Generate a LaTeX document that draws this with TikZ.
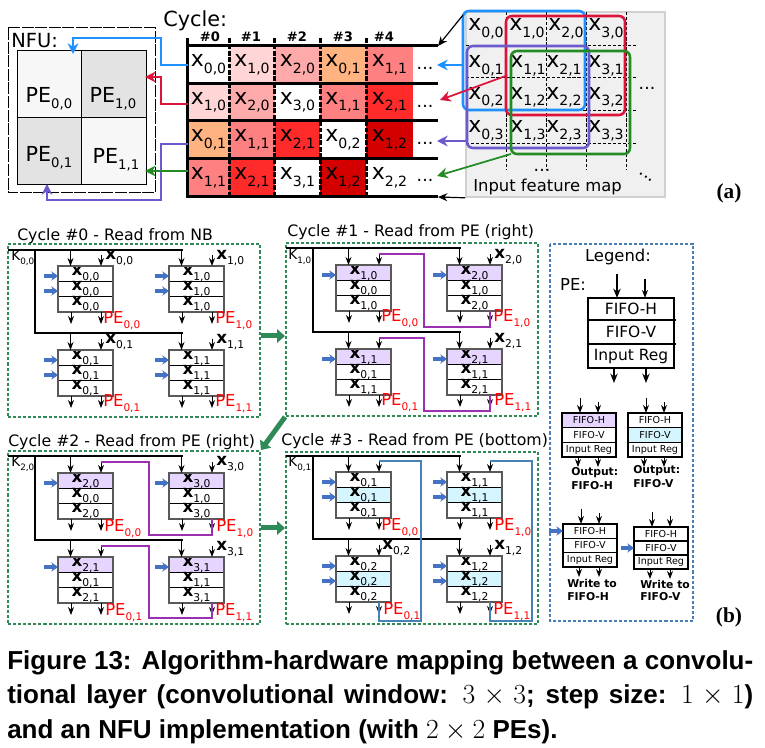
\documentclass[tikz,border=0pt]{standalone}
\usepackage{fontspec}
\setmainfont{DejaVu Sans}
\newfontfamily\capfont{Liberation Sans}
\newfontfamily\tagfont{Liberation Serif}
\usetikzlibrary{arrows.meta,calc}

\definecolor{winblue}{HTML}{1E90FF}
\definecolor{winred}{HTML}{DC143C}
\definecolor{winpurple}{HTML}{6A5ACD}
\definecolor{wingreen}{HTML}{228B22}
\definecolor{heata}{HTML}{FFD5D5}
\definecolor{heatb}{HTML}{FFAAAA}
\definecolor{heatc}{HTML}{FFB380}
\definecolor{heatd}{HTML}{FF8080}
\definecolor{heate}{HTML}{FF2A2A}
\definecolor{heatf}{HTML}{D40000}
\definecolor{fifoh}{HTML}{E5D5FF}
\definecolor{fifov}{HTML}{D5F6FF}
\definecolor{panelgreen}{HTML}{2E8B57}
\definecolor{writeblue}{HTML}{4472C4}
\definecolor{wirepurple}{HTML}{9B30B0}
\definecolor{wireblue}{HTML}{4682B4}
\definecolor{legendblue}{HTML}{4A7FB5}

\newcommand{\lowtxt}[1]{\raisebox{-.3em}{\scalebox{.64}{#1}}}
\newcommand{\xl}[1]{x\lowtxt{#1}}
\newcommand{\bxl}[1]{\textbf{x}\lowtxt{#1}}
\newcommand{\pel}[1]{PE\lowtxt{#1}}

\tikzset{
  tcell/.style={rectangle,inner sep=0pt,outer sep=0pt,font=\fontsize{16.5}{18}\selectfont},
  maplbl/.style={inner sep=0pt,font=\fontsize{16.5}{18}\selectfont},
  dotlbl/.style={inner sep=0pt,font=\fontsize{13}{15}\selectfont},
  nfucell/.style={rectangle,draw=black,line width=.75pt,inner sep=0pt,outer sep=0pt,minimum width=65*.75pt,minimum height=67*.75pt},
  nfulbl/.style={inner sep=0pt,font=\fontsize{15.5}{18}\selectfont},
  window/.style={rectangle,rounded corners=4.5pt,line width=1.9pt,inner sep=0pt,outer sep=0pt},
  conn/.style={line width=1.3pt,-{Stealth[length=8pt,width=8pt]}},
  thinconn/.style={line width=.9pt,-{Stealth[length=7pt,width=6pt]}},
  tableline/.style={line width=2.25pt},
  tabledash/.style={line width=2.25pt,dash pattern=on 3.6pt off 1.2pt},
  perow/.style={rectangle,draw=black,line width=.7pt,inner sep=0pt,outer sep=0pt,minimum width=55*.75pt,minimum height=15.33*.75pt,font=\fontsize{12.6}{14}\selectfont},
  peframe/.style={draw=black!65,line width=1.2pt},
  parrow/.style={line width=.7pt,-{Stealth[length=6pt,width=4.5pt]}},
  bigarrow/.style={line width=1.5pt,-{Stealth[length=7pt,width=5.5pt]}},
  busline/.style={line width=1.5pt},
  writearrow/.style={writeblue,line width=2.3pt,-{Stealth[length=5pt,width=7pt]}},
  panelbox/.style={rectangle,draw=panelgreen,line width=1.4pt,dash pattern=on 2.3pt off 1.5pt,inner sep=0pt},
  steparrow/.style={panelgreen,line width=3.75pt,-{Triangle[length=6pt,width=10pt]}},
  title/.style={anchor=west,inner sep=0pt,font=\fontsize{11.8}{14}\selectfont},
  toplbl/.style={anchor=west,inner sep=0pt,font=\fontsize{12.6}{14}\selectfont},
  klbl/.style={anchor=west,inner sep=0pt,font=\fontsize{10.3}{12}\selectfont},
  redlbl/.style={anchor=west,inner sep=0pt,text=red,font=\fontsize{12.3}{14}\selectfont},
  fifowire/.style={wirepurple,line width=1.3pt},
  botwire/.style={wireblue,line width=1.6pt},
  legrow/.style={rectangle,draw=black,line width=.8pt,inner sep=0pt,outer sep=0pt,minimum width=54*.75pt,font=\fontsize{7.2}{9}\selectfont},
  bigrow/.style={rectangle,inner sep=0pt,outer sep=0pt,minimum width=86*.75pt,font=\fontsize{11.6}{14}\selectfont},
  legnote/.style={anchor=west,inner sep=0pt,font=\bfseries\fontsize{8.1}{10}\selectfont},
  tagnode/.style={inner sep=0pt,font=\tagfont\bfseries\fontsize{16}{18}\selectfont}
}

% one PE with its three registers
\newcommand{\pebox}[8]{%
  \node[perow,fill=#4] (#1-h) at (#2+27.5,#3+7.67) {#6};
  \node[perow,fill=#5] (#1-v) at (#2+27.5,#3+23) {#7};
  \node[perow] (#1-r) at (#2+27.5,#3+38.33) {#8};
  \draw[peframe] (#1-h.north west) rectangle (#1-r.south east);
  \coordinate (#1-ia) at (#2+12.5,#3);
  \coordinate (#1-ib) at (#2+43,#3);
  \coordinate (#1-ic) at (#2+43,#3-11);
  \coordinate (#1-oa) at (#2+13,#3+46);
  \coordinate (#1-ob) at (#2+43,#3+46);
  \coordinate (#1-wa) at (#2,#3+10);
  \coordinate (#1-wb) at (#2,#3+25);
  \draw[parrow] (#1-ic) -- (#1-ib);
  \draw[parrow] (#1-oa) -- ++(0,12);
  \draw[parrow] (#1-ob) -- ++(0,12);
}
% small PE of the legend
\newcommand{\legbox}[6]{%
  \node[legrow,minimum height=#4*.75pt,fill=#5] (#1-h) at (#2+27,#3+#4/2) {FIFO-H};
  \node[legrow,minimum height=#4*.75pt,fill=#6] (#1-v) at (#2+27,#3+#4*1.5) {FIFO-V};
  \node[legrow,minimum height=#4*.75pt] (#1-r) at (#2+27,#3+#4*2.5) {Input Reg};
  \draw[parrow] (#2+18,#3-15) -- (#2+18,#3);
  \draw[parrow] (#2+36,#3-11) -- (#2+36,#3);
  \draw[parrow] (#2+16,#3+#4*3) -- ++(0,10);
  \draw[parrow] (#2+36,#3+#4*3) -- ++(0,10);
}

\begin{document}
\begin{tikzpicture}[x=0.75pt,y=0.75pt,yscale=-1,xscale=1]
\useasboundingbox (0,0) rectangle (765,748);

% NFU
\draw [line width=.75pt,dash pattern=on 9pt off 1.2pt] (8,28) rectangle (155,193);
\node[anchor=west,inner sep=0pt,font=\fontsize{14.6}{16}\selectfont] (nfu) at (11,41) {NFU:};
\node[nfucell,fill=black!3] (pe00) at (49.5,84.5) {};
\node[nfucell,fill=black!11] (pe10) at (114,84.5) {};
\node[nfucell,fill=black!11] (pe01) at (49.5,151.5) {};
\node[nfucell,fill=black!3] (pe11) at (114,151.5) {};
\node[nfulbl] (lpe00) at (49,99) {\pel{0,0}};
\node[nfulbl] (lpe10) at (113,99) {\pel{1,0}};
\node[nfulbl] (lpe01) at (49,158) {\pel{0,1}};
\node[nfulbl] (lpe11) at (116,160) {\pel{1,1}};

% cycle table
\node[anchor=west,inner sep=0pt,font=\fontsize{15.6}{18}\selectfont] (cycle) at (163,21) {Cycle:};
\foreach \hname/\hx in {0/210,1/251,2/297,3/343,4/384}
  \node[inner sep=0pt,font=\bfseries\fontsize{9.8}{12}\selectfont] (head\hname) at (\hx,37) {\#\hname};
\foreach \tname/\tx/\ty/\tw/\th/\tdrop/\tfill/\ttext in {
  t00/208.5/65/41/38/2.2/white/0{,}0, t01/252/65/46/38/2.2/heata/1{,}0, t02/297.5/65/45/38/2.2/heatb/2{,}0, t03/343/65/46/38/2.2/heatc/0{,}1, t04/389.5/65/47/38/2.2/heatd/1{,}1,
  t10/208.5/102.5/41/37/2.6/heata/1{,}0, t11/252/102.5/46/37/2.6/heatb/2{,}0, t12/297.5/102.5/45/37/2.6/white/3{,}0, t13/343/102.5/46/37/2.6/heatd/1{,}1, t14/389.5/102.5/47/37/2.6/heate/2{,}1,
  t20/208.5/140/41/38/.8/heatc/0{,}1, t21/252/140/46/38/.8/heatd/1{,}1, t22/297.5/140/45/38/.8/heate/2{,}1, t23/343/140/46/38/.8/white/0{,}2, t24/389.5/140/47/38/.8/heatf/1{,}2,
  t30/208.5/178/41/38/.8/heatd/1{,}1, t31/252/178/46/38/.8/heate/2{,}1, t32/297.5/178/45/38/.8/white/3{,}1, t33/343/178/46/38/.8/heatf/1{,}2, t34/389.5/178/47/38/.8/white/2{,}2}
  \node[tcell,fill=\tfill,minimum width=\tw*.75pt,minimum height=\th*.75pt] (\tname) at (\tx,\ty) {\raisebox{-\tdrop pt}{\xl{\ttext}}};
\foreach \dname/\dy in {0/68,1/106,2/143,3/180}
  \node[dotlbl] (dots\dname) at (425,\dy) {...};
\foreach \ly in {46,84,121,159,197}
  \draw[tableline] (187,\ly) -- (438,\ly);
\draw[tableline] (187.5,38) -- (187.5,198);
\foreach \lx in {229,274.7,320,366}
  \draw[tabledash] (\lx,38) -- (\lx,197);

% input feature map
\node[rectangle,draw=black!18,fill=black!6,line width=1.2pt,inner sep=0pt,minimum width=199*.75pt,minimum height=185*.75pt] (fmap) at (565.5,104.5) {};
\foreach \ly in {46,78,111,144}
  \draw[line width=.75pt,dash pattern=on 2.4pt off 1.4pt] (466,\ly) -- (638,\ly);
\foreach \lx in {506,546,586,626}
  \draw[line width=.75pt,dash pattern=on 2.4pt off 1.4pt] (\lx,12) -- (\lx,170);
\foreach \mname/\mx/\my/\mtext in {
  m00/486/29/0{,}0, m10/527/29/1{,}0, m20/566/29/2{,}0, m30/606/29/3{,}0,
  m01/486/66/0{,}1, m11/528/66/1{,}1, m21/564/66/2{,}1, m31/606/66/3{,}1,
  m02/486/97.5/0{,}2, m12/528/97.5/1{,}2, m22/564/97.5/2{,}2, m32/606/97.5/3{,}2,
  m03/486/131/0{,}3, m13/528/131/1{,}3, m23/564/131/2{,}3, m33/606/131/3{,}3}
  \node[maplbl] (\mname) at (\mx,\my) {\xl{\mtext}};
\node[dotlbl] (mapdots) at (647,88) {...};
\node[dotlbl] (mapdotsb) at (542,170) {...};
\node[dotlbl,rotate=-35] (mapdotsc) at (646,177) {...};
\node[anchor=west,inner sep=0pt,font=\fontsize{12.3}{14}\selectfont] (fmaptxt) at (473,187) {Input feature map};
\node[window,draw=winblue,minimum width=122*.75pt,minimum height=99*.75pt] (winb) at (524,60.5) {};
\node[window,draw=winred,minimum width=119*.75pt,minimum height=99*.75pt] (winr) at (565.5,65.5) {};
\node[window,draw=winpurple,minimum width=122*.75pt,minimum height=102*.75pt] (winp) at (528,97) {};
\node[window,draw=wingreen,minimum width=119*.75pt,minimum height=103*.75pt] (wing) at (570.5,102.5) {};

% from the windows to the table
\coordinate (inb) at (437,65);
\coordinate (inr) at (440,100);
\coordinate (inp) at (437,141);
\coordinate (ing) at (437,176);
\draw[conn,winblue] (winb.west |- inb) -- (inb);
\draw[conn,winred] ($(winr.west)+(1,10)$) -- (inr);
\draw[conn,winpurple] (winp.west |- inp) -- (inp);
\draw[conn,wingreen] (wing.south west) -- (ing);
\draw[thinconn] (winb.north west) ++(0,4) -- (438,46);
\draw[thinconn] (fmap.south west) -- (438,197);

% from the table to the NFU
\coordinate (nfub) at (73,54);
\coordinate (nfur) at (145,77);
\coordinate (nfup) at (47,184);
\coordinate (nfug) at (145,171);
\draw[conn,winblue] (t00.west) -| (161,38) -| (nfub);
\draw[conn,winred] ($(t10.west)+(0,1.5)$) -| (161,77) -- (nfur);
\draw[conn,winpurple] ($(t20.west)+(0,4)$) -| (161,200) -| (nfup);
\draw[conn,wingreen] ($(t30.west)+(0,-7)$) -- (nfug);
\node[tagnode] (taga) at (729,193) {(a)};

% cycle panels
\node[panelbox,minimum width=252*.75pt,minimum height=173*.75pt] (panela) at (134,330.5) {};
\node[panelbox,minimum width=252*.75pt,minimum height=173*.75pt] (panelb) at (412,329.5) {};
\node[panelbox,minimum width=252*.75pt,minimum height=173*.75pt] (panelc) at (134,537.5) {};
\node[panelbox,minimum width=252*.75pt,minimum height=172*.75pt] (paneld) at (412,538) {};
\node[title] (tita) at (17,236) {Cycle \#0 - Read from NB};
\node[title] (titb) at (287,232) {Cycle \#1 - Read from PE (right)};
\node[title] (titc) at (8,442) {Cycle \#2 - Read from PE (right)};
\node[title] (titd) at (281,441) {Cycle \#3 - Read from PE (bottom)};
\draw[steparrow] ($(panela.east)+(0,5.5)$) -- ($(panelb.west)+(0,6.5)$);
\draw[steparrow] (panelb.south west) -- (panelc.north east);
\draw[steparrow] ($(panelc.east)+(0,-9.5)$) -- ($(paneld.west)+(0,-10)$);

\foreach \bname/\bx/\by/\fa/\fb/\la/\lb/\lc in {
  c0a/58/266/white/white/0{,}0/0{,}0/0{,}0, c0b/169/266/white/white/1{,}0/1{,}0/1{,}0,
  c0c/58/350/white/white/0{,}1/0{,}1/0{,}1, c0d/169/350/white/white/1{,}1/1{,}1/1{,}1,
  c1a/336/265/fifoh/white/1{,}0/0{,}0/1{,}0, c1b/447/265/fifoh/white/2{,}0/1{,}0/2{,}0,
  c1c/336/349/fifoh/white/1{,}1/0{,}1/1{,}1, c1d/447/349/fifoh/white/2{,}1/1{,}1/2{,}1,
  c2a/58/473/fifoh/white/2{,}0/0{,}0/2{,}0, c2b/169/473/fifoh/white/3{,}0/1{,}0/3{,}0,
  c2c/58/557/fifoh/white/2{,}1/0{,}1/2{,}1, c2d/169/557/fifoh/white/3{,}1/1{,}1/3{,}1,
  c3a/336/472/white/fifov/0{,}1/0{,}1/0{,}1, c3b/447/472/white/fifov/1{,}1/1{,}1/1{,}1,
  c3c/336/556/white/fifov/0{,}2/0{,}2/0{,}2, c3d/447/556/white/fifov/1{,}2/1{,}2/1{,}2}
  \pebox{\bname}{\bx}{\by}{\fa}{\fb}{\bxl{\la}}{\bxl{\lb}}{\bxl{\lc}};

% K lines
\foreach \pn/\px/\py/\busy in {c0/58/266/250,c1/336/265/248,c2/58/473/456,c3/336/472/456}{
  \coordinate (\pn bust) at (\px,\busy);
  \coordinate (\pn busl) at (\px,\py+67);
  \draw[busline] (\px-50,\busy) -- (\px+125,\busy);
  \draw[busline] (\px-23,\busy) |- (\px+125,\py+67);
  \draw[parrow] (\pn a-ia |- \pn bust) -- (\pn a-ia);
  \draw[parrow] (\pn b-ia |- \pn bust) -- (\pn b-ia);
  \draw[parrow] (\pn c-ia |- \pn busl) -- (\pn c-ia);
  \draw[parrow] (\pn d-ia |- \pn busl) -- (\pn d-ia);
}

% writes from the NB
\foreach \wname in {c0a-wa,c0a-wb,c0b-wa,c0b-wb,c0c-wa,c0c-wb,c0d-wa,c0d-wb,c1a-wa,c1b-wa,c1c-wa,c1d-wa,c2a-wa,c2b-wa,c2c-wa,c2d-wa,c3a-wa,c3a-wb,c3b-wa,c3b-wb,c3c-wa,c3c-wb,c3d-wa,c3d-wb}
  \draw[writearrow] (\wname) ++(-14,0) -- (\wname);

% reads from the neighbour PE
\draw[fifowire] (c1b-ob) |- (424,327) |- (c1a-ic);
\draw[fifowire] (c1d-ob) |- (424,411) |- (c1c-ic);
\draw[fifowire] (c2b-ob) |- (149,535) |- (c2a-ic);
\draw[fifowire] (c2d-ob) |- (149,618) |- (c2c-ic);
\draw[botwire] (c3c-ob) |- (421,621) |- (c3a-ic);
\draw[botwire] (c3d-ob) |- (532,621) |- (c3b-ic);

\foreach \tlname/\tlx/\tly/\tltext in {
  xa/105/258/0{,}0, xb/216/258/1{,}0, xc/105/342/0{,}1, xd/216/342/1{,}1,
  xe/494/257/2{,}0, xf/494/341/2{,}1,
  xg/216/464/3{,}0, xh/216/549/3{,}1,
  xi/382/548/0{,}2, xj/494/548/1{,}2}
  \node[toplbl] (\tlname) at (\tlx,\tly) {\bxl{\tltext}};
\foreach \kname/\kx/\ky/\ktext in {ka/11/258/0{,}0,kb/288/257/1{,}0,kc/11/464/2{,}0,kd/288/464/0{,}1}
  \node[klbl] (\kname) at (\kx,\ky) {K\lowtxt{\ktext}};
\foreach \rname/\rx/\ry/\rtext in {
  ra/103/321/0{,}0, rb/215/321/1{,}0, rc/103/404/0{,}1, rd/215/404/1{,}1,
  re/381/319/0{,}0, rf/493/319/1{,}0, rg/381/403/0{,}1, rh/494/403/1{,}1,
  ri/104/529/0{,}0, rj/216/529/1{,}0, rk/105/613/0{,}1, rl/215/613/1{,}1,
  rm/381/528/0{,}0, rn/494/528/1{,}0, ro/383/612/0{,}1, rp/493/612/1{,}1}
  \node[redlbl] (\rname) at (\rx,\ry) {\pel{\rtext}};

% legend
\draw[legendblue,line width=1.2pt,dash pattern=on 2.3pt off 1.5pt] (550,244) rectangle (693,621);
\node[inner sep=0pt,font=\fontsize{12.3}{14}\selectfont] (legtit) at (618,257) {Legend:};
\node[inner sep=0pt,font=\fontsize{12.3}{14}\selectfont] (legpe) at (573,285) {PE:};
\node[bigrow,minimum height=22*.75pt] (bigh) at (631,309) {FIFO-H};
\node[bigrow,minimum height=24*.75pt] (bigv) at (631,332) {FIFO-V};
\node[bigrow,minimum height=24*.75pt] (bigr) at (631,356) {Input Reg};
\draw[line width=1.1pt] (bigh.north west) rectangle (bigr.south east);
\draw[line width=1.7pt] (bigh.south west) -- ++(88,0);
\draw[line width=1.7pt] (bigv.south west) -- ++(88,0);
\draw[bigarrow] (617,274) -- (617,298);
\draw[parrow,line width=1pt] (645,279) -- (645,298);
\draw[bigarrow] (614,368) -- (614,383);
\draw[bigarrow] (646,368) -- (646,383);
\legbox{lega}{562}{413}{14.67}{fifoh}{white}
\legbox{legb}{628}{413}{14.67}{white}{fifov}
\legbox{legc}{563}{524}{14.33}{white}{white}
\legbox{legd}{634}{527}{14}{white}{white}
\coordinate (wrc) at (563,531);
\coordinate (wrd) at (634,548);
\draw[writearrow] (wrc) ++(-14,0) -- (wrc);
\draw[writearrow] (wrd) ++(-13,0) -- (wrd);
\node[legnote] (nota) at (571,473) {Output:};
\node[legnote] (notb) at (571,486) {FIFO-H};
\node[legnote] (notc) at (633,471) {Output:};
\node[legnote] (notd) at (633,484) {FIFO-V};
\node[legnote] (note) at (567,583) {Write to};
\node[legnote] (notf) at (567,597) {FIFO-H};
\node[legnote] (notg) at (640,584) {Write to};
\node[legnote] (noth) at (640,597) {FIFO-V};
\node[tagnode] (tagb) at (729,617) {(b)};

% caption
\node[anchor=north west,inner sep=0pt,text width=746*.75pt,align=justify,font=\capfont\bfseries\fontsize{19.5}{26}\selectfont] (caption) at (7,650) {Figure 13: Algorithm-hardware mapping between a convolu-\linebreak tional layer (convolutional window: $3\times3$; step size: $1\times1$)\linebreak and an NFU implementation (with $2\times2$ PEs).};

\end{tikzpicture}
\end{document}
